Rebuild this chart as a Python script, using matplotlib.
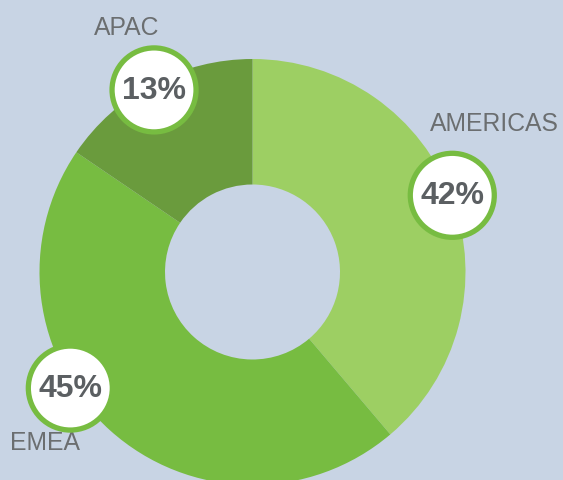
import numpy as np
import matplotlib.pyplot as plt
from matplotlib.patches import Circle

# data
regions = ['AMERICAS', 'EMEA', 'APAC']
slice_values = [38.8, 45.7, 15.5]      # as drawn in the ring
pct_labels = ['42%', '45%', '13%']     # as printed on the badges
colors = ['#9dcf63', '#77bc41', '#6a9b3d']

# where the badges sit (degrees clockwise from top, distance from centre)
badge_angles = [69, 237.5, 331.6]
badge_dist = [214, 216, 207]
label_pos = [(494, 124), (45, 443), (127, 28)]

bg = '#c8d4e4'
W, H = 563, 480

fig = plt.figure(figsize=(W / 100, H / 100), dpi=100, facecolor=bg)
ax = fig.add_axes([0, 0, 1, 1])

cx, cy = 252.5, H - 272
r_out, r_in = 213, 87.5

ax.pie(slice_values, colors=colors, startangle=90, counterclock=False,
       center=(cx, cy), radius=r_out, frame=True,
       wedgeprops=dict(width=r_out - r_in, linewidth=0))
ax.set_xlim(0, W)
ax.set_ylim(0, H)
ax.set_aspect('equal')
ax.axis('off')

for name, lab, ang, d, (lx, ly) in zip(regions, pct_labels, badge_angles, badge_dist, label_pos):
    a = np.deg2rad(ang)
    bx = cx + d * np.sin(a)
    by = cy + d * np.cos(a)
    ax.add_patch(Circle((bx, by), 42, facecolor='white', edgecolor='#77bc41',
                        linewidth=3.8, zorder=5))
    ax.text(bx, by - 1, lab, ha='center', va='center', fontsize=23,
            fontweight='bold', color='#5b5f62', family='Liberation Sans', zorder=6)
    ax.text(lx, H - ly, name, ha='center', va='center', fontsize=17.8,
            color='#6b6e70', family='Liberation Sans')

fig.savefig('out.png', dpi=100, facecolor=bg)
